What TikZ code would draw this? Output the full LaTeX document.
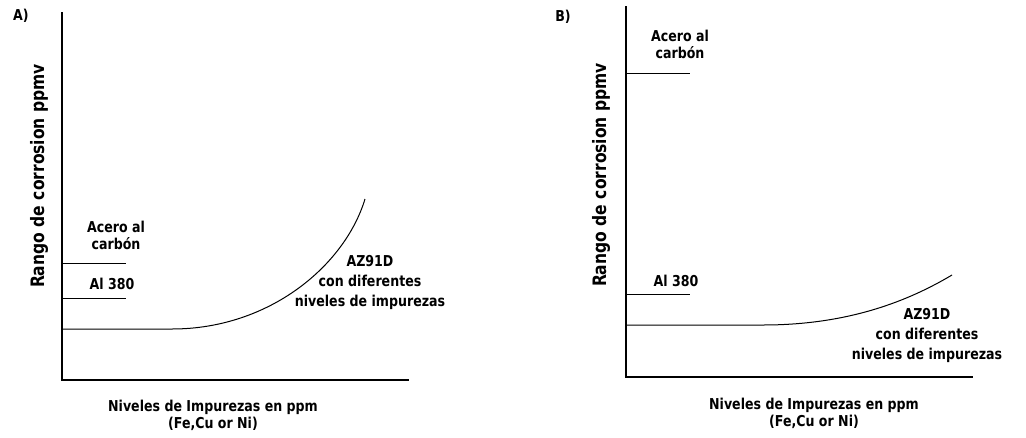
\documentclass[tikz,border=0pt]{standalone}
\usepackage{fontspec}
\setmainfont{DejaVu Sans}
\newfontfamily\lblfont[FakeStretch=0.84]{DejaVu Sans}
\begin{document}
\begin{tikzpicture}[x=1pt,y=-1pt,
  lbl/.style={font=\lblfont\bfseries\fontsize{15}{17}\selectfont, inner sep=0pt, align=center},
  lblw/.style={font=\lblfont\bfseries\fontsize{15}{20}\selectfont, inner sep=0pt, align=center},
  ylbl/.style={font=\lblfont\bfseries\fontsize{18.5}{20}\selectfont, inner sep=0pt, rotate=90},
  axis/.style={line width=1.2pt},
  lvl/.style={line width=1pt},
  crv/.style={line width=1pt}]
\useasboundingbox (0,0) rectangle (1026,437);
% ---------- Panel A ----------
\node[lbl] (tA) at (21,16) {A)};
\coordinate (Atop) at (62,12);
\coordinate (Aor) at (62,380);
\coordinate (Aend) at (409,380);
\draw[axis] (Atop) -- (Aor) -- (Aend);
\coordinate (Aac0) at (62,263); \coordinate (Aac1) at (126,263);
\coordinate (Aal0) at (62,298); \coordinate (Aal1) at (126,298);
\draw[lvl] (Aac0) -- (Aac1);
\draw[lvl] (Aal0) -- (Aal1);
\coordinate (Ac0) at (62,329); \coordinate (Ac1) at (172,329); \coordinate (Ac2) at (365,199);
\draw[crv] (Ac0) -- (Ac1) .. controls (270,329) and (345,265) .. (Ac2);
\node[lbl] (Aacl) at (116,235) {Acero al\\carbón};
\node[lbl] (Aall) at (112,284) {Al 380};
\node[lblw] (Aaz) at (370,282) {AZ91D\\con diferentes\\niveles de impurezas};
\node[lbl] (Ax) at (213,415) {Niveles de Impurezas en ppm\\(Fe,Cu or Ni)};
\node[ylbl] (Ay) at (39,176) {Rango de corrosion ppmv};
% ---------- Panel B ----------
\node[lbl] (tB) at (563,17) {B)};
\coordinate (Btop) at (626,6);
\coordinate (Bor) at (626,377);
\coordinate (Bend) at (973,377);
\draw[axis] (Btop) -- (Bor) -- (Bend);
\coordinate (Bac0) at (626,73); \coordinate (Bac1) at (690,73);
\coordinate (Bal0) at (626,294); \coordinate (Bal1) at (690,294);
\draw[lvl] (Bac0) -- (Bac1);
\draw[lvl] (Bal0) -- (Bal1);
\coordinate (Bc0) at (626,325); \coordinate (Bc1) at (763,325); \coordinate (Bc2) at (952,275);
\draw[crv] (Bc0) -- (Bc1) .. controls (850,325) and (910,300) .. (Bc2);
\node[lbl] (Bacl) at (680,44) {Acero al\\carbón};
\node[lbl] (Ball) at (676,281) {Al 380};
\node[lblw] (Baz) at (927,335) {AZ91D\\con diferentes\\niveles de impurezas};
\node[lbl] (Bx) at (814,413) {Niveles de Impurezas en ppm\\(Fe,Cu or Ni)};
\node[ylbl] (By) at (601,175) {Rango de corrosion ppmv};
\end{tikzpicture}
\end{document}
